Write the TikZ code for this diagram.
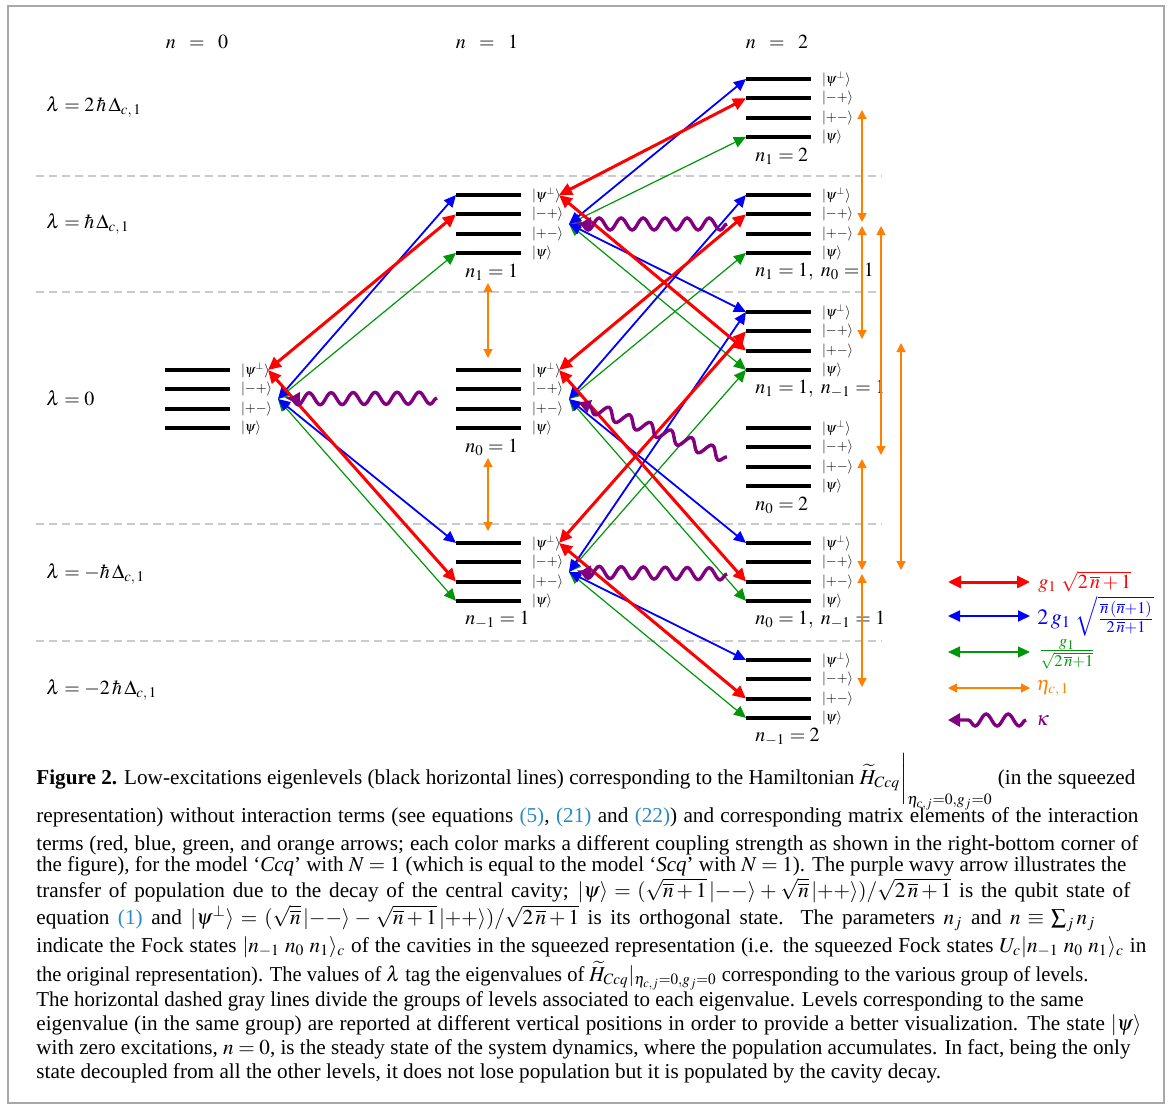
\documentclass[tikz,border=0pt]{standalone}
\usepackage{mathptmx}
\usepackage{graphicx}
\usepackage{fontspec}
\setmainfont{Liberation Serif}
\usetikzlibrary{arrows.meta,decorations.pathmorphing}
\definecolor{couplingRed}{HTML}{FF0000}
\definecolor{couplingBlue}{HTML}{0000FF}
\definecolor{couplingGreen}{HTML}{00960A}
\definecolor{etaOrange}{HTML}{FF8000}
\definecolor{kappaPurple}{HTML}{800080}
\definecolor{dashGray}{HTML}{CBCBCB}
\definecolor{frameGray}{HTML}{A8A8A8}
\definecolor{citeBlue}{HTML}{2A8AC4}
\tikzset{
    level/.style={line width=2pt},
    ket/.style={anchor=west,inner sep=0.5pt,xshift=4pt,font=\fontsize{7}{8}\selectfont},
    grouplabel/.style={anchor=west,inner sep=0pt,font=\fontsize{10}{12}\selectfont},
    rowlabel/.style={anchor=west,inner sep=0pt,font=\fontsize{10}{12}\selectfont},
    headlabel/.style={inner sep=0pt,font=\fontsize{10}{12}\selectfont},
    sepline/.style={draw=dashGray,line width=0.6pt,dash pattern=on 4pt off 2.5pt},
    redcoup/.style={>={Triangle[length=6.5pt,width=6pt]},<->,draw=couplingRed,line width=1.5pt},
    bluecoup/.style={>={Triangle[length=6pt,width=5.5pt]},<->,draw=couplingBlue,line width=0.9pt},
    greencoup/.style={>={Triangle[length=6pt,width=5.5pt]},<->,draw=couplingGreen,line width=0.6pt},
    etacoup/.style={>={Triangle[length=4.5pt,width=4.5pt]},<->,draw=etaOrange,line width=0.6pt},
    kappawave/.style={-{Triangle[length=6pt,width=6.5pt]},draw=kappaPurple,line width=1.7pt,
        decorate,decoration={snake,amplitude=3pt,segment length=11pt,post length=6pt}},
    legendtext/.style={anchor=west,inner sep=0pt,font=\fontsize{10}{12}\selectfont},
    capline/.style={anchor=base west,inner sep=0pt,font=\fontsize{10.6}{12.5}\selectfont}
}
% one group of four levels: name, left x, top y, label
\newcommand{\levelgroup}[4]{%
    \coordinate (#1-a) at (#2,#3);
    \coordinate (#1-b) at (#2,#3+19.3);
    \coordinate (#1-c) at (#2,#3+38.6);
    \coordinate (#1-d) at (#2,#3+57.9);
    \coordinate (#1-m) at (#2,#3+29);
    \coordinate (#1-r) at (#2+103,#3);
    \coordinate (#1-q) at (#2+113,#3+29);
    \coordinate (#1-top) at (#2+32,#3-12);
    \coordinate (#1-bot) at (#2+32,#3+88);
    \foreach \p/\s in {a/{\psi^{\perp}},b/{{-}{+}},c/{{+}{-}},d/{\psi}}
        \draw[level] (#1-\p) -- ++(65,0) node[ket] (#1-k\p) {$|\s\rangle$};
    \node[grouplabel] (#1-lab) at (#2+9,#3+77) {#4};
}
% caption line set to a given width
\newcommand{\fitline}[2]{\sbox0{#2}%
    \ifdim\wd0<#1pt\makebox[#1pt][s]{#2}\else\resizebox{#1pt}{\ht0}{\usebox0}\fi}
\newcommand{\capline}[4]{\node[capline] (#1) at (36,#2) {\fitline{#3}{#4}};}
\newcommand{\nbar}{\overline{n}}

\begin{document}
\begin{tikzpicture}[x=0.5pt,y=-0.5pt]
    \useasboundingbox (0,0) rectangle (1168,1108);
    \draw[frameGray,line width=0.8pt] (8,6) rectangle (1164,1103);

    % headers and eigenvalues
    \node[headlabel] (hdr0) at (197,42) {$n\;\;=\;\;0$};
    \node[headlabel] (hdr1) at (487,42) {$n\;\;=\;\;1$};
    \node[headlabel] (hdr2) at (777,42) {$n\;\;=\;\;2$};
    \node[rowlabel] (lamp2) at (46,107) {$\lambda = 2\,\hbar\,\Delta_{c,\,1}$};
    \node[rowlabel] (lamp1) at (46,224) {$\lambda = \hbar\,\Delta_{c,\,1}$};
    \node[rowlabel] (lam0) at (46,398) {$\lambda = 0$};
    \node[rowlabel] (lamm1) at (46,574) {$\lambda = -\hbar\,\Delta_{c,\,1}$};
    \node[rowlabel] (lamm2) at (46,690) {$\lambda = -2\,\hbar\,\Delta_{c,\,1}$};
    \foreach \y in {176,292,524,641}
        \draw[sepline] (36,\y) -- (882,\y);

    % levels
    \levelgroup{z}{165}{370}{}
    \levelgroup{a}{456}{195}{$n_1 = 1$}
    \levelgroup{b}{456}{370}{$n_0 = 1$}
    \levelgroup{c}{456}{543}{$n_{-1} = 1$}
    \levelgroup{g1}{746}{79}{$n_1 = 2$}
    \levelgroup{g2}{746}{195}{$n_1 = 1,\ n_0 = 1$}
    \levelgroup{g3}{746}{312}{$n_1 = 1,\ n_{-1} = 1$}
    \levelgroup{g4}{746}{428}{$n_0 = 2$}
    \levelgroup{g5}{746}{543}{$n_0 = 1,\ n_{-1} = 1$}
    \levelgroup{g6}{746}{660}{$n_{-1} = 2$}

    % eta couplings
    \draw[etacoup] (a-bot) -- (b-top);
    \draw[etacoup] (b-bot) -- (c-top);
    \foreach \s/\t in {g1/g2,g2/g3,g4/g5,g5/g6}
        \draw[etacoup,shorten <=1pt,shorten >=1pt] ([xshift=58pt]\s-m) -- ([xshift=58pt]\t-m);
    \draw[etacoup,shorten <=1pt,shorten >=1pt] ([xshift=67.5pt]g2-m) -- ([xshift=67.5pt]g4-m);
    \draw[etacoup,shorten <=1pt,shorten >=1pt] ([xshift=77.5pt]g3-m) -- ([xshift=77.5pt]g5-m);

    % g couplings
    \foreach \s/\t in {z-q/a-d,z-q/c-d,a-q/g1-d,a-q/g3-d,b-q/g2-d,b-q/g5-d,c-q/g3-d,c-q/g6-d}
        \draw[greencoup] (\s) -- (\t);
    \foreach \s/\t in {z-q/a-a,z-q/c-a,a-q/g1-a,a-q/g3-a,b-q/g2-a,b-q/g5-a,c-q/g3-a,c-q/g6-a}
        \draw[bluecoup] (\s) -- (\t);
    \foreach \s/\t in {z-r/a-b,z-r/c-c,a-r/g1-b,a-r/g3-c,b-r/g2-b,b-r/g5-c,c-r/g3-b,c-r/g6-c}
        \draw[redcoup] (\s) -- (\t);

    % cavity decay
    \coordinate (kz) at (437,398);
    \coordinate (ka) at (727,224);
    \coordinate (kb) at (727,457);
    \coordinate (kc) at (727,574);
    \draw[kappawave,shorten >=5pt] (kz) -- (z-q);
    \draw[kappawave,shorten >=5pt] (ka) -- (a-q);
    \draw[kappawave,shorten >=5pt] (kb) -- (b-q);
    \draw[kappawave,shorten >=5pt] (kc) -- (c-q);

    % legend
    \coordinate (lr1) at (948,582);  \coordinate (lr2) at (1030,582);
    \coordinate (lb1) at (948,616);  \coordinate (lb2) at (1030,616);
    \coordinate (lg1) at (948,652);  \coordinate (lg2) at (1030,652);
    \coordinate (lo1) at (948,688);  \coordinate (lo2) at (1030,688);
    \coordinate (lk1) at (1026,720); \coordinate (lk2) at (948,720);
    \draw[redcoup] (lr1) -- (lr2);
    \draw[bluecoup] (lb1) -- (lb2);
    \draw[greencoup] (lg1) -- (lg2);
    \draw[etacoup] (lo1) -- (lo2);
    \draw[kappawave] (lk1) -- (lk2);
    \node[legendtext,text=couplingRed] (legr) at (1038,582) {$g_1\;\sqrt{2\,\nbar+1}$};
    \node[legendtext,text=couplingBlue,font=\fontsize{11}{13}\selectfont] (legb) at (1037,616)
        {$2\,g_1\;\sqrt{\frac{\nbar\,(\nbar+1)}{2\,\nbar+1}}$};
    \node[legendtext,text=couplingGreen,font=\fontsize{11}{13}\selectfont] (legg) at (1038,654)
        {$\frac{g_1}{\sqrt{2\,\nbar+1}}$};
    \node[legendtext,text=etaOrange] (lego) at (1036,688) {$\eta_{c,\,1}$};
    \node[legendtext,text=kappaPurple] (legk) at (1036,720) {$\kappa$};

    % caption
    \capline{cap1}{784}{549.5}{\textbf{Figure 2.} Low-excitations eigenlevels (black horizontal lines) corresponding to the Hamiltonian $\widetilde{H}_{Ccq}\bigg|_{\eta_{c,j}=0,g_j=0}$ (in the squeezed}
    \capline{cap2}{822}{551}{representation) without interaction terms (see equations \textcolor{citeBlue}{(5)}, \textcolor{citeBlue}{(21)} and \textcolor{citeBlue}{(22)}) and corresponding matrix elements of the interaction}
    \capline{cap3}{850}{551}{terms (red, blue, green, and orange arrows; each color marks a different coupling strength as shown in the right-bottom corner of}
    \capline{cap4}{871}{545}{the figure), for the model `\textit{Ccq}' with $N=1$ (which is equal to the model `\textit{Scq}' with $N=1$). The purple wavy arrow illustrates the}
    \capline{cap5}{897}{547}{transfer of population due to the decay of the central cavity; $|\psi\rangle=(\sqrt{\nbar+1}\,|{-}{-}\rangle+\sqrt{\nbar}\,|{+}{+}\rangle)/\sqrt{2\,\nbar+1}$ is the qubit state of}
    \capline{cap6}{924}{529.5}{equation \textcolor{citeBlue}{(1)} and $|\psi^{\perp}\rangle=(\sqrt{\nbar}\,|{-}{-}\rangle-\sqrt{\nbar+1}\,|{+}{+}\rangle)/\sqrt{2\,\nbar+1}$ is its orthogonal state. The parameters $n_j$ and $n\equiv\sum_j n_j$}
    \capline{cap7}{952}{555}{indicate the Fock states $|n_{-1}\;n_0\;n_1\rangle_c$ of the cavities in the squeezed representation (i.e. the squeezed Fock states $U_c|n_{-1}\;n_0\;n_1\rangle_c$ in}
    \capline{cap8}{981}{526}{the original representation). The values of $\lambda$ tag the eigenvalues of $\widetilde{H}_{Ccq}|_{\eta_{c,j}=0,g_j=0}$ corresponding to the various group of levels.}
    \capline{cap9}{1006}{523.5}{The horizontal dashed gray lines divide the groups of levels associated to each eigenvalue. Levels corresponding to the same}
    \capline{cap10}{1030}{552.5}{eigenvalue (in the same group) are reported at different vertical positions in order to provide a better visualization. The state $|\psi\rangle$}
    \capline{cap11}{1054}{547}{with zero excitations, $n=0$, is the steady state of the system dynamics, where the population accumulates. In fact, being the only}
    \node[capline] (cap12) at (36,1078) {state decoupled from all the other levels, it does not lose population but it is populated by the cavity decay.};
\end{tikzpicture}
\end{document}
